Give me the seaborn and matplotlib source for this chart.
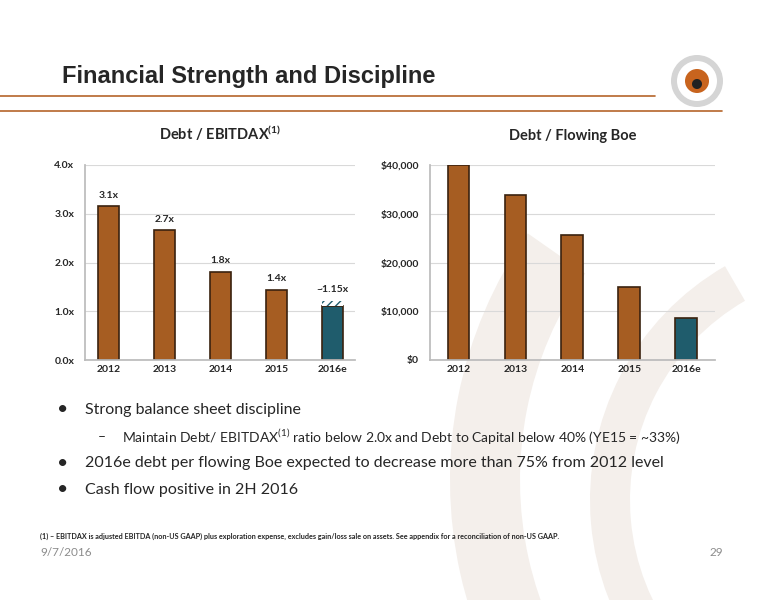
import numpy as np
import pandas as pd
import matplotlib
matplotlib.use('Agg')
import matplotlib.pyplot as plt
import seaborn as sns
from matplotlib.patches import Wedge

years = ['2012', '2013', '2014', '2015', '2016e']
ebitdax = [3.15, 2.66, 1.81, 1.44, 1.10]
ebitdax_labels = ['3.1x', '2.7x', '1.8x', '1.4x', '~1.15x']
ebitdax_hatch_top = 1.22
flowing_boe = [40000, 33800, 25600, 15000, 8600]

sns.set_theme(style='white')
plt.rcParams['font.family'] = ['Lato', 'DejaVu Sans']

orange = '#A65D22'
teal = '#1F5C6C'
colors = [orange] * 4 + [teal]

fig = plt.figure(figsize=(7.76, 6.0), dpi=100)
fig.patch.set_facecolor('white')

# faint background arcs
bg = fig.add_axes([0, 0, 1, 1], zorder=-5)
bg.set_xlim(0, 776)
bg.set_ylim(600, 0)
bg.axis('off')
bg.add_patch(Wedge((880, 480), 430, 120, 215, width=70, color='#F4EFEB', lw=0))
bg.add_patch(Wedge((860, 500), 270, 110, 240, width=40, color='#F4EFEB', lw=0))
bg.plot([0, 655], [96, 96], color='#B5652A', lw=1.2)
bg.plot([0, 722], [111, 111], color='#B5652A', lw=1.2)
bg.add_patch(Wedge((697, 81), 26, 0, 360, width=6, color='#D5D5D5', lw=0))
bg.add_patch(Wedge((697, 81), 12, 0, 360, color='#C8641E', lw=0))
bg.add_patch(Wedge((697, 84), 5, 0, 360, color='#222222', lw=0))

fig.text(62 / 776, 1 - 76 / 600, 'Financial Strength and Discipline', fontsize=17,
         fontweight='bold', family=['Liberation Sans', 'DejaVu Sans'], va='center')


def draw(ax, df, ymax, step, fmt, title):
    sns.barplot(data=df, x='year', y='value', hue='year', palette=colors, legend=False,
                width=0.38, edgecolor='#3a220f', linewidth=1.2, saturation=1, ax=ax)
    ax.set_ylim(0, ymax)
    ticks = np.arange(0, ymax + step / 2, step)
    ax.set_yticks(ticks)
    ax.set_yticklabels([fmt(t) for t in ticks], fontsize=7.5, fontweight='bold')
    ax.tick_params(axis='x', labelsize=7.5, length=0)
    for lab in ax.get_xticklabels():
        lab.set_fontweight('bold')
    ax.tick_params(axis='y', length=0, pad=8)
    ax.yaxis.grid(True, color='#D9D9D9', lw=0.8)
    ax.set_axisbelow(True)
    ax.set_xlabel('')
    ax.set_ylabel('')
    ax.set_facecolor('none')
    for s in ['top', 'right']:
        ax.spines[s].set_visible(False)
    ax.spines['left'].set_color('#BBBBBB')
    ax.spines['bottom'].set_color('#BBBBBB')
    ax.set_title(title, fontsize=10.5, fontweight='bold', pad=18)


ax1 = fig.add_axes([0.110, 0.40, 0.348, 0.325])
draw(ax1, pd.DataFrame({'year': years, 'value': ebitdax}), 4.0, 1.0,
     lambda t: f'{t:.1f}x', r'Debt / EBITDAX$^{\mathregular{(1)}}$')
ax1.bar(4, ebitdax_hatch_top - ebitdax[4], bottom=ebitdax[4], width=0.38,
        color='white', hatch='////', edgecolor='#1F5C6C', lw=0)
for i, (v, lab) in enumerate(zip(ebitdax, ebitdax_labels)):
    top = ebitdax_hatch_top if i == 4 else v
    ax1.text(i, top + 0.13, lab, ha='center', va='bottom', fontsize=7.5, fontweight='bold')

ax2 = fig.add_axes([0.554, 0.40, 0.367, 0.325])
draw(ax2, pd.DataFrame({'year': years, 'value': flowing_boe}), 40000, 10000,
     lambda t: f'${t:,.0f}', 'Debt / Flowing Boe')

fig.text(57 / 776, 1 - 410 / 600, '•', fontsize=14, va='center')
fig.text(85 / 776, 1 - 410 / 600, 'Strong balance sheet discipline', fontsize=11.5, va='center')
fig.text(98 / 776, 1 - 437 / 600, '–', fontsize=10, va='center')
fig.text(122 / 776, 1 - 437 / 600,
         r'Maintain Debt/ EBITDAX$^{\mathregular{(1)}}$ ratio below 2.0x and Debt to Capital below 40% (YE15 = ~33%)',
         fontsize=10, va='center')
fig.text(57 / 776, 1 - 463 / 600, '•', fontsize=14, va='center')
fig.text(85 / 776, 1 - 463 / 600, '2016e debt per flowing Boe expected to decrease more than 75% from 2012 level',
         fontsize=11.5, va='center')
fig.text(57 / 776, 1 - 490 / 600, '•', fontsize=14, va='center')
fig.text(85 / 776, 1 - 490 / 600, 'Cash flow positive in 2H 2016', fontsize=11.5, va='center')

fig.text(40 / 776, 1 - 536 / 600,
         '(1) – EBITDAX is adjusted EBITDA (non-US GAAP) plus exploration expense, excludes gain/loss sale on assets. '
         'See appendix for a reconciliation of non-US GAAP.', fontsize=5.2, fontweight='bold', va='center')
fig.text(40 / 776, 1 - 553 / 600, '9/7/2016', fontsize=8.5, color='#8C8C8C', va='center')
fig.text(723 / 776, 1 - 553 / 600, '29', fontsize=8.5, color='#8C8C8C', va='center', ha='right')

fig.savefig('out.png', dpi=100)
